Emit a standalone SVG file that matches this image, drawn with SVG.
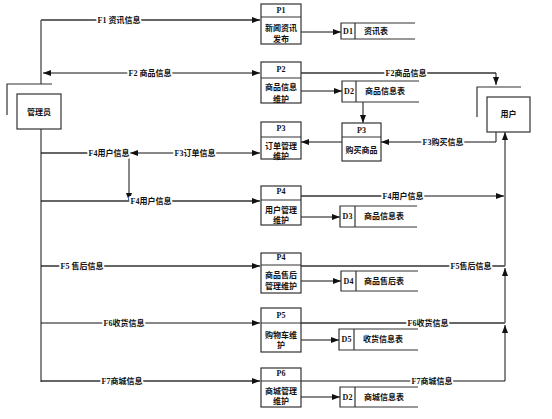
<svg xmlns="http://www.w3.org/2000/svg" width="552" height="419" viewBox="0 0 552 419">
<defs>
<marker id="ah" viewBox="0 0 8 6" refX="8" refY="3" markerWidth="8" markerHeight="6" markerUnits="userSpaceOnUse" orient="auto-start-reverse"><path d="M0,0 L8,3 L0,6 z" fill="#111"/></marker>
<style>
.box{fill:#fff;stroke:#333;stroke-width:1.2}
.ln{fill:none;stroke:#333;stroke-width:1.2}
.g{fill:none;stroke:#666;stroke-width:1.8}
.k{fill:none;stroke:#111;stroke-width:1}
.a{marker-end:url(#ah)}
.b{marker-start:url(#ah)}
text{font-family:"Liberation Serif","Noto Sans CJK SC",serif;font-size:8px;font-weight:700;fill:#111;dominant-baseline:central}
.c{text-anchor:middle}
.lab{text-anchor:middle;paint-order:stroke;stroke:#fff;stroke-width:4px;stroke-linejoin:round}
</style>
</defs>
<g id="connectors">
<path class="k" d="M41,84 V20"/>
<path class="g a" d="M41,20 H260"/>
<path class="k a b" d="M43,73 H260"/>
<path class="g" d="M301,73 H496"/>
<path class="k a" d="M496,73 V85"/>
<path class="k a" d="M301,32 H341"/>
<path class="k a" d="M301,91 H342"/>
<path class="k a" d="M363,102 V123"/>
<path class="k a" d="M342,142 H301"/>
<path class="k a" d="M496,132 V142 H381"/>
<path class="g" d="M41,153 H130"/>
<path class="k a b" d="M130,153 H260"/>
<path class="k a" d="M129,153 V201"/>
<path class="g a" d="M41,201 H260"/>
<path class="g" d="M301,196 H420"/>
<path class="k a" d="M420,196 H504"/>
<path class="k a" d="M505,381 V325"/>
<path class="k a" d="M505,323 V268"/>
<path class="k a" d="M505,266 V132"/>
<path class="g a" d="M41,266 H260"/>
<path class="g" d="M301,266 H505"/>
<path class="k a" d="M41,323 H260"/>
<path class="g" d="M301,323 H505"/>
<path class="g a" d="M41,381 H260"/>
<path class="k" d="M301,381 H505"/>
<path class="k" d="M41,129 V382"/>
<path class="k a" d="M301,217 H340"/>
<path class="k a" d="M301,281 H341"/>
<path class="k a" d="M301,340 H339"/>
<path class="k a" d="M301,397 H340"/>
<text class="lab" x="119" y="20">F1 资讯信息</text>
<text class="lab" x="150" y="73">F2 商品信息</text>
<text class="lab" x="406" y="73">F2商品信息</text>
<text class="lab" x="443" y="142">F3购买信息</text>
<text class="lab" x="109" y="153">F4用户信息</text>
<text class="lab" x="195" y="153">F3订单信息</text>
<text class="lab" x="151" y="201">F4用户信息</text>
<text class="lab" x="403" y="196">F4用户信息</text>
<text class="lab" x="82" y="266">F5 售后信息</text>
<text class="lab" x="471" y="266">F5售后信息</text>
<text class="lab" x="124" y="323">F6收货信息</text>
<text class="lab" x="428" y="323">F6收货信息</text>
<text class="lab" x="122" y="381">F7商城信息</text>
<text class="lab" x="432" y="381">F7商城信息</text>
</g>
<g id="admin">
<path class="ln" d="M7,115 V84 H52"/>
<rect class="box" x="17" y="94" width="44" height="35"/>
<text class="c" x="39" y="112">管理员</text>
</g>
<g id="user">
<path class="ln" d="M477,117 V87 H521"/>
<rect class="box" x="487" y="97" width="43" height="35"/>
<text class="c" x="508.5" y="114">用户</text>
</g>
<g id="p1">
<rect class="box" x="261" y="4" width="40" height="40"/><path class="ln" d="M261,17 H301"/>
<text class="c" x="281" y="10.5">P1</text><text class="c" x="281" y="28.5">新闻资讯</text><text class="c" x="281" y="39.5">发布</text>
</g>
<g id="p2">
<rect class="box" x="261" y="62" width="40" height="41"/><path class="ln" d="M261,78 H301"/>
<text class="c" x="281" y="69.5">P2</text><text class="c" x="281" y="87">商品信息</text><text class="c" x="281" y="99">维护</text>
</g>
<g id="p3-order">
<rect class="box" x="261" y="122" width="40" height="37"/><path class="ln" d="M261,137 H301"/>
<text class="c" x="281" y="128.5">P3</text><text class="c" x="281" y="146.5">订单管理</text><text class="c" x="281" y="156">维护</text>
</g>
<g id="p3-buy">
<rect class="box" x="342" y="123" width="39" height="38"/><path class="ln" d="M342,137 H381"/>
<text class="c" x="361.5" y="130.5">P3</text><text class="c" x="361.5" y="150">购买商品</text>
</g>
<g id="p4-user">
<rect class="box" x="261" y="186" width="40" height="39"/><path class="ln" d="M261,200 H301"/>
<text class="c" x="281" y="191">P4</text><text class="c" x="281" y="210">用户管理</text><text class="c" x="281" y="220">维护</text>
</g>
<g id="p4-after">
<rect class="box" x="261" y="253" width="40" height="40"/><path class="ln" d="M261,265 H301"/>
<text class="c" x="281" y="257.5">P4</text><text class="c" x="281" y="275">商品售后</text><text class="c" x="281" y="286">管理维护</text>
</g>
<g id="p5">
<rect class="box" x="261" y="308" width="40" height="44"/><path class="ln" d="M261,323 H301"/>
<text class="c" x="281" y="315">P5</text><text class="c" x="281" y="335">购物车维</text><text class="c" x="281" y="345">护</text>
</g>
<g id="p6">
<rect class="box" x="261" y="368" width="40" height="39"/><path class="ln" d="M261,381 H301"/>
<text class="c" x="281" y="373.5">P6</text><text class="c" x="281" y="391.5">商城管理</text><text class="c" x="281" y="401.5">维护</text>
</g>
<g id="d1">
<path class="ln" d="M415,23 H341 V39 H415 M355,23 V39"/>
<text class="c" x="348" y="31">D1</text><text x="364" y="31">资讯表</text>
</g>
<g id="d2">
<path class="ln" d="M419,81 H342 V102 H419 M356,81 V102"/>
<text class="c" x="349" y="91.5">D2</text><text x="365" y="91.5">商品信息表</text>
</g>
<g id="d3">
<path class="ln" d="M417,206 H340 V227 H417 M355,206 V227"/>
<text class="c" x="347.5" y="216.5">D3</text><text x="364" y="216.5">商品信息表</text>
</g>
<g id="d4">
<path class="ln" d="M418,271 H341 V291 H418 M356,271 V291"/>
<text class="c" x="348.5" y="281">D4</text><text x="364" y="281">商品售后表</text>
</g>
<g id="d5">
<path class="ln" d="M418,329 H339 V350 H418 M354,329 V350"/>
<text class="c" x="346.5" y="339.5">D5</text><text x="363" y="339.5">收货信息表</text>
</g>
<g id="d2-mall">
<path class="ln" d="M418,387 H340 V407 H418 M355,387 V407"/>
<text class="c" x="347.5" y="397">D2</text><text x="364" y="397">商城信息表</text>
</g>
</svg>
